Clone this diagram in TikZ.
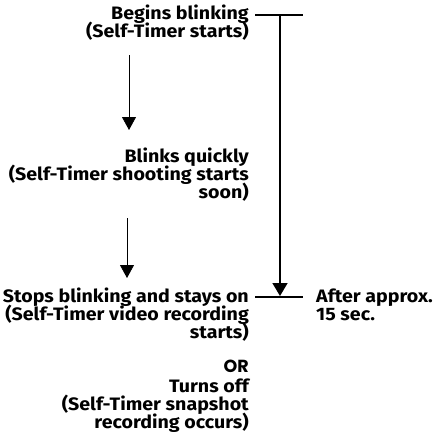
\documentclass[tikz,border=0pt]{standalone}
\usepackage{fontspec}
\setmainfont{Fira Sans}[FakeStretch=1.09]
\newfontfamily\orfont{Poppins}
\usetikzlibrary{arrows.meta}
\newcommand\tightlines{\lineskiplimit=-100pt\relax}
\tikzset{
  steptxt/.style={font=\bfseries\fontsize{18}{17.6}\selectfont\tightlines,
                  align=right,anchor=base east,inner sep=0pt},
  timetxt/.style={font=\bfseries\fontsize{18}{17.6}\selectfont\tightlines,
                  align=left,anchor=base west,inner sep=0pt},
  thinarrow/.style={line width=0.8pt,-{Triangle[width=14pt,length=13pt]}},
  timeline/.style={line width=1.6pt},
}
\begin{document}
\begin{tikzpicture}[x=1pt,y=-1pt]
  \useasboundingbox (0,0) rectangle (440,445);

  %% step texts (base = last line)
  \node[steptxt] (begins) at (249,37) {Begins blinking\\(Self-Timer starts)};
  \node[steptxt] (quick) at (249,198) {Blinks quickly\\(Self-Timer shooting starts\\soon)};
  \node[steptxt] (stops) at (249,338) {Stops blinking and stays on\\(Self-Timer video recording\\starts)};
  \node[steptxt,font=\orfont\bfseries\fontsize{17.5}{17.6}\selectfont] (orlbl) at (249,372) {OR};
  \node[steptxt] (turnsoff) at (249,428) {Turns off\\(Self-Timer snapshot\\recording occurs)};
  \node[timetxt] (after) at (316,320) {After approx.\\15 sec.};

  %% arrows between steps
  \coordinate (a1s) at (129,55);
  \coordinate (a1e) at (129,130);
  \coordinate (a2s) at (127,218);
  \coordinate (a2e) at (127,278);
  \draw[thinarrow] (a1s) -- (a1e);
  \draw[thinarrow] (a2s) -- (a2e);

  %% time bracket
  \coordinate (tickAl) at (255,15);
  \coordinate (tickAr) at (303,15);
  \coordinate (tickBl) at (255,297);
  \coordinate (tickBr) at (303,297);
  \coordinate (tmtop) at (280,15);
  \coordinate (tmbot) at (280,296);
  \draw[timeline] (tickAl) -- (tickAr);
  \draw[timeline] (tickBl) -- (tickBr);
  \draw[timeline,-{Triangle[width=15pt,length=13pt]}] (tmtop) -- (tmbot);
\end{tikzpicture}
\end{document}
